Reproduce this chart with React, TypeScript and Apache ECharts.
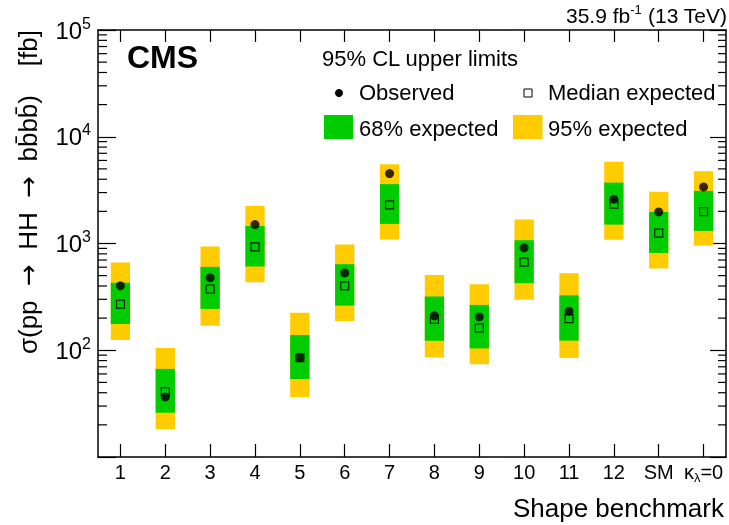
import React, { useEffect, useRef } from "react";
import * as echarts from "echarts";

const categories = ["1", "2", "3", "4", "5", "6", "7", "8", "9", "10", "11", "12", "SM", "κλ=0"];
const observed = [401, 36.5, 477, 1503, 85.3, 530, 4520, 210, 205, 910, 232, 2600, 1977, 3390];
const median = [270, 40.9, 373, 929, 85.3, 401, 2300, 195, 162, 668, 198, 2334, 1250, 1990];
const lo68 = [176, 26, 244, 608, 53.8, 262, 1527, 123, 104, 425, 123, 1503, 816, 1312];
const hi68 = [428, 66.9, 604, 1462, 139, 640, 3600, 318, 266, 1074, 327, 3720, 1977, 3110];
const lo95 = [125, 18.2, 170, 434, 36.5, 188, 1089, 85.3, 74, 298, 84.7, 1082, 582, 951];
const hi95 = [662, 105, 935, 2250, 225, 977, 5530, 508, 416, 1675, 527, 5820, 3050, 4760];

const yMin = 10;
const yMax = 100000;
const minorMultipliers = [2, 3, 4, 5, 6, 7, 8, 9];
const decades = [10, 100, 1000, 10000];

const FONT = "'Liberation Sans', Arial, Helvetica, sans-serif";
const GREEN = "#00CC00";
const YELLOW = "#FFCC00";

export default function App() {
  const ref = useRef<HTMLDivElement>(null);

  useEffect(() => {
    if (!ref.current) return;
    const chart = echarts.init(ref.current, undefined, { renderer: "svg" });

    const bandData = categories.map((_, i) => [i, lo95[i], hi95[i], lo68[i], hi68[i]]);
    const obsData = categories.map((_, i) => [i, observed[i]]);
    const medData = categories.map((_, i) => [i, median[i]]);
    const minorData: number[][] = [];
    decades.forEach((d) => minorMultipliers.forEach((m) => minorData.push([0, m * d])));

    const yLabelFormatter = (v: number) => {
      const e = Math.round(Math.log10(v));
      if (e <= 1) return "";
      return `{b|10}{s|${e}}`;
    };

    const option: any = {
      animation: false,
      textStyle: { fontFamily: FONT, color: "#000" },
      grid: { left: 98, right: 3, top: 30, bottom: 68 },
      xAxis: [
        {
          type: "category",
          data: categories,
          position: "bottom",
          boundaryGap: true,
          axisLine: { show: true, lineStyle: { color: "#000", width: 1.5 } },
          axisTick: { show: true, inside: true, length: 13, alignWithLabel: true, lineStyle: { color: "#000", width: 1.2 } },
          axisLabel: {
            color: "#000",
            fontSize: 20,
            fontFamily: FONT,
            margin: 3,
            interval: 0,
            formatter: (v: string) => (v === "κλ=0" ? "{n|κ}{sub|λ}{n|=0}" : `{n|${v}}`),
            rich: {
              n: { fontSize: 20, fontFamily: FONT, color: "#000", lineHeight: 24 },
              sub: { fontSize: 13, fontFamily: FONT, color: "#000", verticalAlign: "bottom", lineHeight: 15 },
            },
          },
          splitLine: { show: false },
        },
        {
          type: "category",
          data: categories,
          position: "top",
          boundaryGap: true,
          axisLine: { show: true, lineStyle: { color: "#000", width: 1.5 } },
          axisTick: { show: true, inside: true, length: 12, alignWithLabel: true, lineStyle: { color: "#000", width: 1.2 } },
          axisLabel: { show: false },
          splitLine: { show: false },
        },
      ],
      yAxis: [
        {
          type: "log",
          logBase: 10,
          min: yMin,
          max: yMax,
          position: "left",
          axisLine: { show: true, lineStyle: { color: "#000", width: 1.5 } },
          axisTick: { show: true, inside: true, length: 18, lineStyle: { color: "#000", width: 1.2 } },
          axisLabel: {
            color: "#000",
            margin: 7,
            formatter: yLabelFormatter,
            rich: {
              b: { fontSize: 24, fontFamily: FONT, color: "#000", lineHeight: 30 },
              s: { fontSize: 16, fontFamily: FONT, color: "#000", verticalAlign: "top", lineHeight: 16 },
            },
          },
          splitLine: { show: false },
          minorTick: { show: false },
        },
        {
          type: "log",
          logBase: 10,
          min: yMin,
          max: yMax,
          position: "right",
          axisLine: { show: true, lineStyle: { color: "#000", width: 1.5 } },
          axisTick: { show: true, inside: true, length: 16, lineStyle: { color: "#000", width: 1.2 } },
          axisLabel: { show: false },
          splitLine: { show: false },
        },
      ],
      series: [
        {
          type: "custom",
          name: "minor",
          xAxisIndex: 0,
          yAxisIndex: 0,
          silent: true,
          clip: false,
          data: minorData,
          renderItem: (params: any, api: any) => {
            const cs = params.coordSys;
            const y = api.coord([0, api.value(1)])[1];
            return {
              type: "group",
              children: [
                { type: "line", shape: { x1: cs.x, y1: y, x2: cs.x + 9, y2: y }, style: { stroke: "#000", lineWidth: 1.2 } },
                { type: "line", shape: { x1: cs.x + cs.width - 8, y1: y, x2: cs.x + cs.width, y2: y }, style: { stroke: "#000", lineWidth: 1.2 } },
              ],
            };
          },
        },
        {
          type: "custom",
          name: "bands",
          xAxisIndex: 0,
          yAxisIndex: 0,
          silent: true,
          data: bandData,
          renderItem: (params: any, api: any) => {
            const c = api.value(0);
            const a95 = api.coord([c, api.value(1)]);
            const b95 = api.coord([c, api.value(2)]);
            const a68 = api.coord([c, api.value(3)]);
            const b68 = api.coord([c, api.value(4)]);
            const w = api.size([1, 1])[0] * 0.43;
            return {
              type: "group",
              children: [
                { type: "rect", shape: { x: a95[0] - w / 2, y: b95[1], width: w, height: a95[1] - b95[1] }, style: { fill: YELLOW } },
                { type: "rect", shape: { x: a68[0] - w / 2, y: b68[1], width: w, height: a68[1] - b68[1] }, style: { fill: GREEN } },
              ],
            };
          },
        },
        {
          type: "scatter",
          name: "Median expected",
          xAxisIndex: 0,
          yAxisIndex: 0,
          symbol: "rect",
          symbolSize: 8,
          data: medData,
          itemStyle: { color: "rgba(0,0,0,0)", borderColor: "#000", borderWidth: 1.2 },
        },
        {
          type: "scatter",
          name: "Observed",
          xAxisIndex: 0,
          yAxisIndex: 0,
          symbol: "circle",
          symbolSize: 9,
          data: obsData,
          itemStyle: { color: "#000" },
        },
      ],
      graphic: [
        {
          type: "text",
          x: 727,
          y: 15,
          style: {
            text: "35.9 fb{s|-1} (13 TeV)",
            rich: {
              s: { fontSize: 13, fontFamily: FONT, verticalAlign: "top", lineHeight: 14 },
            },
            fontSize: 21,
            fontFamily: FONT,
            fill: "#000",
            textAlign: "right",
            textVerticalAlign: "middle",
            lineHeight: 24,
          },
        },
        {
          type: "text",
          x: 127,
          y: 57,
          style: { text: "CMS", fontSize: 32, fontWeight: "bold", fontFamily: FONT, fill: "#000", textAlign: "left", textVerticalAlign: "middle" },
        },
        {
          type: "text",
          x: 322,
          y: 58,
          style: { text: "95% CL upper limits", fontSize: 22, fontFamily: FONT, fill: "#000", textAlign: "left", textVerticalAlign: "middle" },
        },
        { type: "circle", shape: { cx: 339, cy: 93, r: 4 }, style: { fill: "#000" } },
        {
          type: "text",
          x: 359,
          y: 92.5,
          style: { text: "Observed", fontSize: 22, fontFamily: FONT, fill: "#000", textAlign: "left", textVerticalAlign: "middle" },
        },
        { type: "rect", shape: { x: 524, y: 89, width: 8, height: 8 }, style: { fill: "#fff", stroke: "#000", lineWidth: 1 } },
        {
          type: "text",
          x: 548,
          y: 92.5,
          style: { text: "Median expected", fontSize: 22, fontFamily: FONT, fill: "#000", textAlign: "left", textVerticalAlign: "middle" },
        },
        { type: "rect", shape: { x: 324, y: 115, width: 29, height: 24 }, style: { fill: GREEN } },
        {
          type: "text",
          x: 359,
          y: 128,
          style: { text: "68% expected", fontSize: 22, fontFamily: FONT, fill: "#000", textAlign: "left", textVerticalAlign: "middle" },
        },
        { type: "rect", shape: { x: 513, y: 115, width: 29.5, height: 24 }, style: { fill: YELLOW } },
        {
          type: "text",
          x: 548,
          y: 128,
          style: { text: "95% expected", fontSize: 22, fontFamily: FONT, fill: "#000", textAlign: "left", textVerticalAlign: "middle" },
        },
        {
          type: "text",
          x: 724,
          y: 508,
          style: { text: "Shape benchmark", fontSize: 26, fontFamily: FONT, fill: "#000", textAlign: "right", textVerticalAlign: "middle" },
        },
        {
          type: "text",
          x: 28,
          y: 30,
          rotation: Math.PI / 2,
          style: {
            text: "{t|σ(pp  }{a|→}{t|  HH  }{a|→}{t|  bb\u0304bb\u0304)    [fb]}",
            rich: {
              t: { fontSize: 26, fontFamily: FONT, fill: "#000", lineHeight: 28 },
              a: { fontSize: 26, fontFamily: "'DejaVu Sans', sans-serif", fill: "#000", lineHeight: 28 },
            },
            fontSize: 26,
            fontFamily: FONT,
            fill: "#000",
            textAlign: "right",
            textVerticalAlign: "middle",
          },
        },
      ],
    };

    chart.setOption(option);
    return () => chart.dispose();
  }, []);

  return <div ref={ref} style={{ position: "fixed", left: 0, top: 0, width: 729, height: 525 }} />;
}
